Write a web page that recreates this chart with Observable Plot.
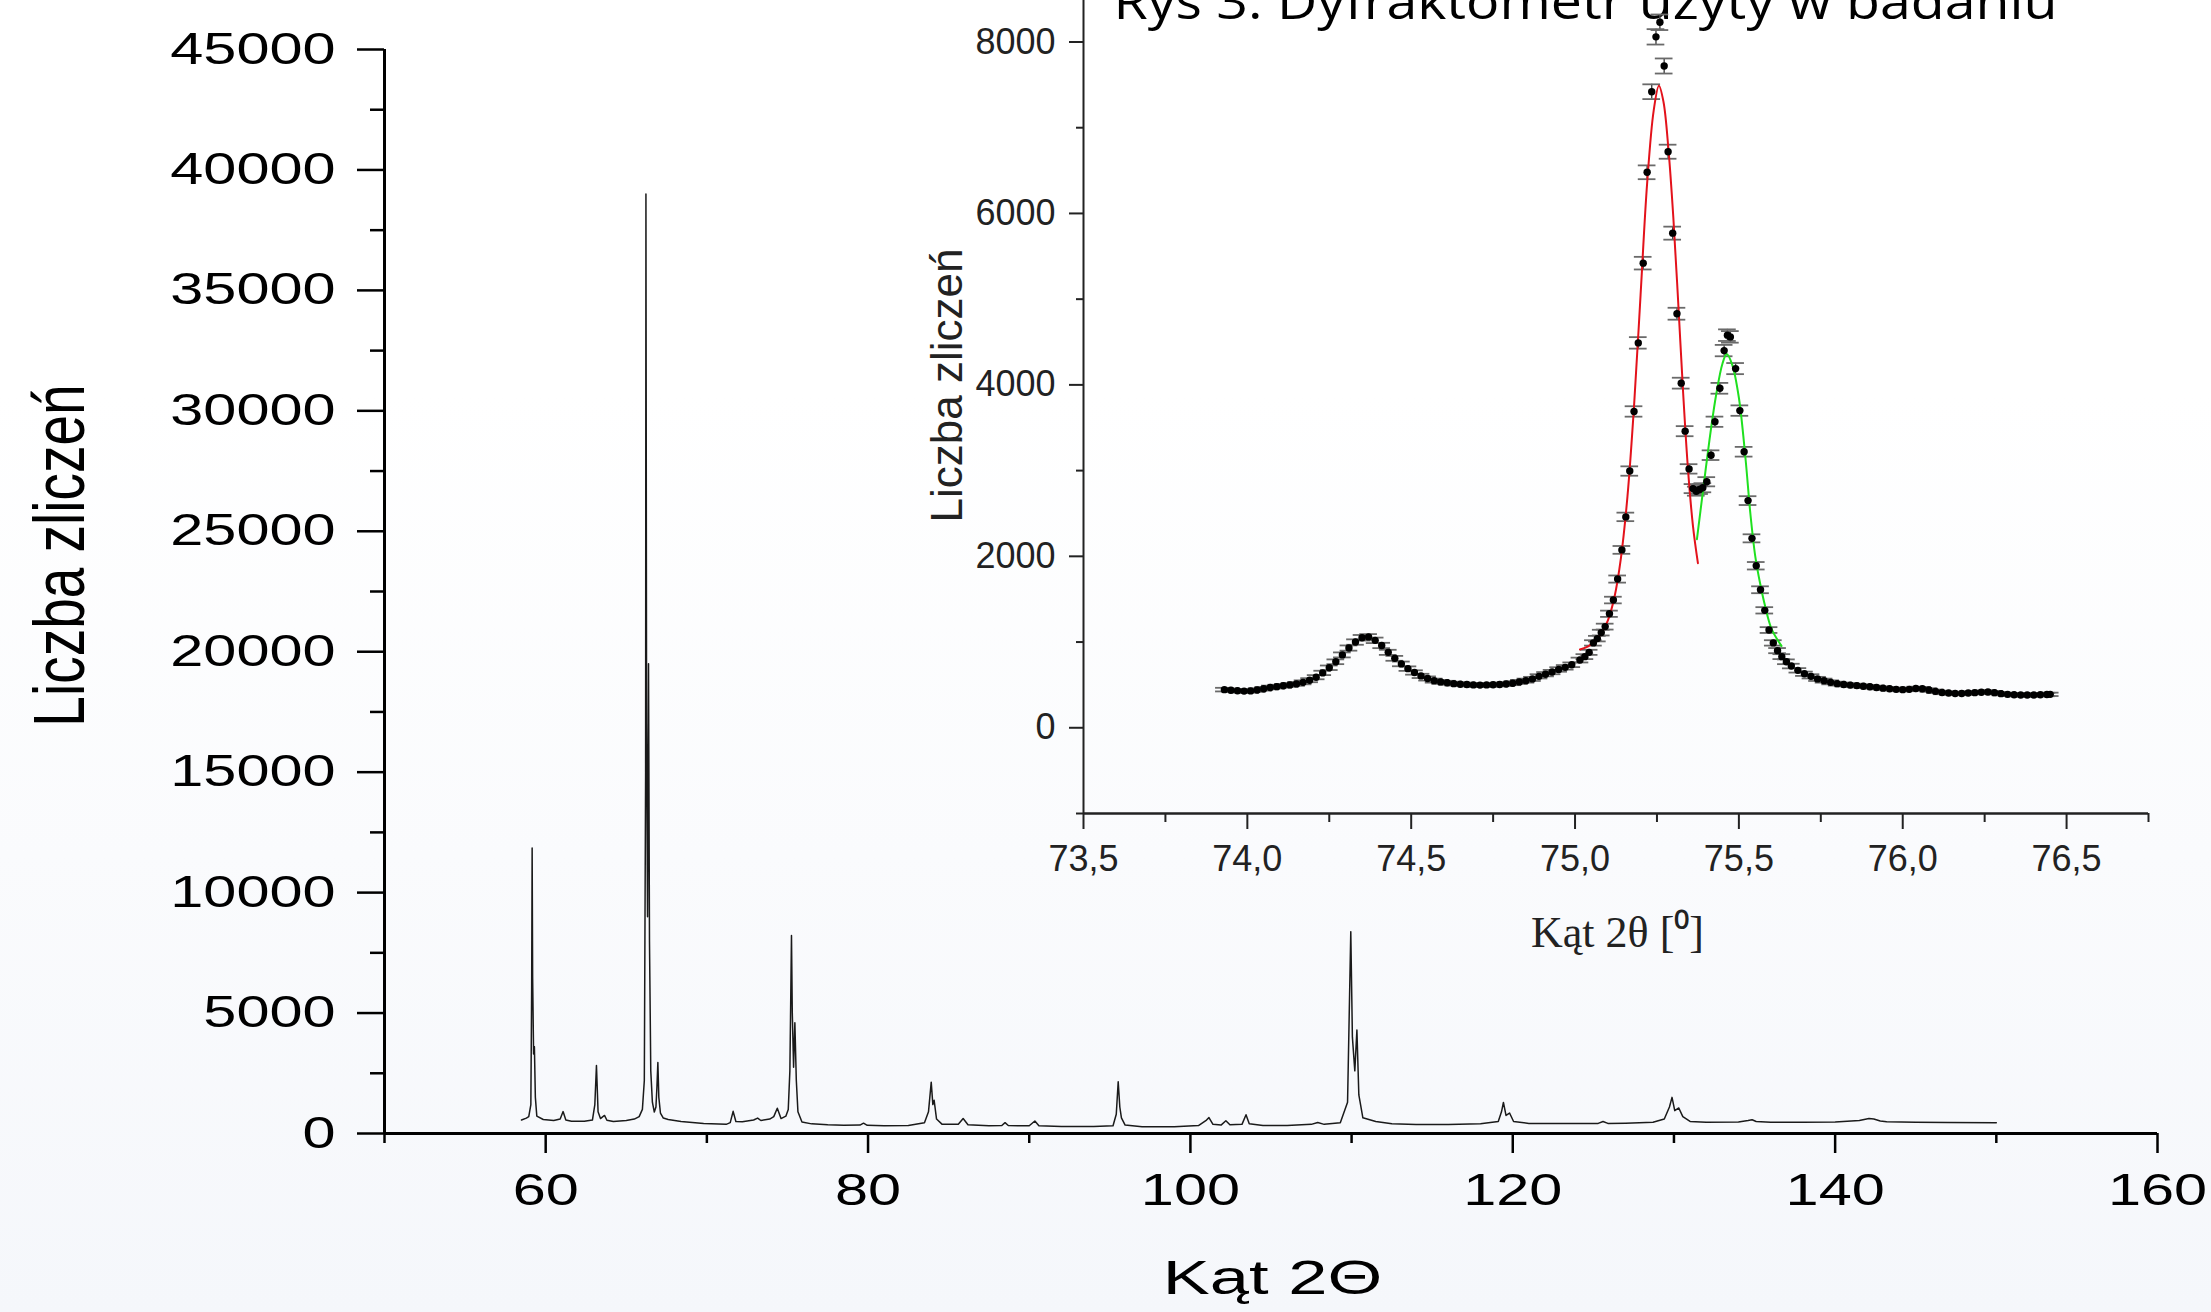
<!DOCTYPE html>
<html>
<head>
<meta charset="utf-8">
<script src="https://cdn.jsdelivr.net/npm/d3@7"></script>
<script src="https://cdn.jsdelivr.net/npm/@observablehq/plot@0.6"></script>
<style>
html, body { margin: 0; padding: 0; }
body {
  width: 2211px; height: 1312px; overflow: hidden; position: relative;
  background: linear-gradient(to bottom, #ffffff 0%, #ffffff 30%, #f5f7fb 100%);
  font-family: "Liberation Sans", Arial, sans-serif;
}
#main { position: absolute; left: 0; top: 0; }
#inset { position: absolute; left: 880px; top: 0; }
svg { overflow: visible; }
</style>
</head>
<body>
<div id="main"></div>
<div id="inset"></div>
<script>
// ---------- Main pattern: [2θ, counts] ----------
const mainPattern = [
  [58.5,560],[58.8,640],[58.95,700],[59.08,1200],[59.13,6000],[59.16,11850],[59.19,6500],[59.25,3300],[59.3,3600],[59.36,1500],[59.45,720],
  [59.85,580],[60.5,540],[60.9,600],[61.08,910],[61.25,560],[61.6,510],[62.4,510],[62.9,560],[63.05,1200],[63.15,2820],[63.25,900],
  [63.4,620],[63.55,700],[63.65,750],[63.8,550],[64.2,500],[65.0,540],[65.5,600],[65.8,700],[66.0,1000],[66.12,2200],[66.2,15000],
  [66.22,39000],[66.26,17000],[66.32,9000],[66.38,19500],[66.44,8000],[66.52,2600],[66.62,1300],[66.74,890],[66.84,1100],[66.9,1900],
  [66.96,2950],[67.02,1500],[67.12,850],[67.3,640],[67.6,580],[68.4,500],[69.8,420],[71.2,380],[71.45,450],[71.63,920],[71.8,500],
  [72.2,490],[72.9,560],[73.15,640],[73.35,540],[73.9,600],[74.15,700],[74.37,1050],[74.6,620],[74.9,720],[75.05,1000],[75.15,2600],
  [75.22,6500],[75.25,8220],[75.3,5000],[75.38,2750],[75.46,4600],[75.55,2200],[75.65,900],[75.9,480],[76.5,400],[77.5,360],[78.5,340],
  [79.5,350],[79.72,430],[79.95,340],[81.0,320],[82.5,330],[83.5,450],[83.75,900],[83.92,2130],[84.02,1200],[84.1,1380],[84.25,600],
  [84.6,380],[85.6,380],[85.9,620],[86.2,360],[87.5,320],[88.3,330],[88.5,450],[88.7,330],[90.0,320],[90.35,520],[90.6,320],[92.0,290],
  [94.0,290],[95.2,320],[95.4,800],[95.52,2150],[95.62,1100],[95.72,650],[95.95,350],[97.0,280],[99.0,280],[100.5,330],[101.0,560],
  [101.15,660],[101.4,380],[101.9,350],[102.2,530],[102.45,360],[103.2,380],[103.45,780],[103.65,400],[104.5,330],[106.0,330],[107.5,380],
  [107.9,460],[108.3,380],[109.3,450],[109.75,1300],[109.95,8380],[110.05,4000],[110.2,2600],[110.33,4300],[110.45,1600],[110.7,650],
  [111.5,500],[112.5,400],[114.0,370],[116.0,370],[118.0,400],[119.1,500],[119.3,900],[119.42,1290],[119.58,750],[119.8,850],[120.05,500],
  [121.0,420],[123.0,410],[125.3,420],[125.6,500],[125.9,420],[127.0,430],[128.7,470],[129.4,600],[129.72,1100],[129.88,1500],[130.05,950],
  [130.3,1060],[130.55,700],[131.0,500],[132.0,470],[134.0,480],[134.6,540],[134.85,570],[135.1,500],[136.0,470],[138.0,470],[140.0,480],
  [141.5,540],[142.1,620],[142.4,600],[142.8,520],[143.2,490],[145.0,470],[147.0,460],[150.0,450]
];

// ---------- Inset measured points: [2θ, counts] ----------
const insetPoints = [
  [73.93,445],[73.95,438],[73.97,432],[73.99,428],[74.01,430],[74.03,440],[74.05,455],[74.07,470],[74.09,480],[74.11,490],
  [74.13,500],[74.15,512],[74.17,530],[74.19,555],[74.21,590],[74.23,640],[74.25,700],[74.27,770],[74.29,850],[74.31,930],
  [74.33,1000],[74.35,1050],[74.37,1060],[74.39,1020],[74.41,960],[74.43,880],[74.45,810],[74.47,745],[74.49,690],[74.51,645],
  [74.53,605],[74.55,575],[74.57,550],[74.59,535],[74.61,525],[74.63,515],[74.65,508],[74.67,505],[74.69,500],[74.71,498],
  [74.73,500],[74.75,502],[74.77,505],[74.79,510],[74.81,520],[74.83,535],[74.85,550],[74.87,570],[74.89,600],[74.91,625],
  [74.93,650],[74.95,680],[74.97,705],[74.99,735],
  [75.015,790],[75.03,830],[75.043,880],[75.056,990],[75.068,1040],[75.08,1110],[75.092,1180],[75.105,1330],[75.117,1490],
  [75.13,1735],[75.143,2075],[75.155,2460],[75.167,2995],[75.18,3690],[75.193,4490],[75.208,5420],[75.22,6480],[75.234,7420],
  [75.247,8060],[75.259,8230],[75.272,7720],[75.284,6720],[75.298,5770],[75.311,4830],[75.324,4020],[75.336,3460],[75.348,3020],
  [75.36,2790],[75.37,2760],[75.38,2780],[75.39,2800],[75.402,2870],[75.415,3180],[75.427,3570],[75.442,3960],[75.455,4400],
  [75.465,4580],[75.474,4560],[75.49,4190],[75.503,3700],[75.516,3220],[75.528,2650],[75.54,2210],[75.553,1890],[75.566,1610],
  [75.579,1370],[75.592,1140],[75.605,990],[75.618,900],[75.631,830],[75.645,770],[75.66,720],
  [75.68,670],[75.70,630],[75.72,600],[75.74,570],[75.76,550],[75.78,530],[75.80,515],[75.82,505],[75.84,498],[75.86,492],
  [75.88,485],[75.90,478],[75.92,470],[75.94,462],[75.96,455],[75.98,448],[76.00,445],[76.02,448],[76.04,458],[76.06,455],
  [76.08,440],[76.10,425],[76.12,412],[76.14,405],[76.16,400],[76.18,400],[76.20,405],[76.22,410],[76.24,415],[76.26,418],
  [76.28,410],[76.30,398],[76.32,390],[76.34,385],[76.36,383],[76.38,382],[76.40,383],[76.42,385],[76.44,388],[76.45,390]
];

// ---------- Inset fitted curves ----------
const redFit = [
  [75.015,914],[75.04,950],[75.06,1010],[75.08,1100],[75.10,1250],[75.12,1520],[75.14,1980],[75.16,2700],[75.18,3750],
  [75.20,5050],[75.22,6350],[75.24,7200],[75.256,7490],[75.27,7300],[75.285,6750],[75.30,5950],[75.315,4950],[75.33,3900],
  [75.345,3000],[75.36,2350],[75.375,1920]
];
const greenFit = [
  [75.372,2200],[75.39,2750],[75.41,3350],[75.43,3870],[75.45,4250],[75.463,4360],[75.48,4230],[75.50,3850],[75.52,3150],
  [75.535,2500],[75.55,2000],[75.565,1680],[75.58,1420],[75.60,1150],[75.63,955]
];

// ---------- Ticks ----------
const mainYMajor = [0,5000,10000,15000,20000,25000,30000,35000,40000,45000];
const mainYMinor = [2500,7500,12500,17500,22500,27500,32500,37500,42500];
const mainXMajor = [60,80,100,120,140,160];
const mainXMinor = [50,70,90,110,130,150];
const insetYMajor = [0,2000,4000,6000,8000];
const insetYMinor = [-1000,1000,3000,5000,7000];
const insetXMajor = [73.5,74.0,74.5,75.0,75.5,76.0,76.5];
const insetXMinor = [73.75,74.25,74.75,75.25,75.75,76.25,76.75];

// ---------- Texts ----------
const figTitle = "Rys 3. Dyfraktometr użyty w badaniu";
const mainXLabel = "Kąt 2Θ";
const mainYLabel = "Liczba zliczeń";
const insetXLabel = "Kąt 2θ [⁰]";
const insetYLabel = "Liczba zliczeń";

const mainRows = mainPattern.map(([x, y]) => ({x, y}));
const insetRows = insetPoints.map(([x, c]) => ({x, c, e: Math.sqrt(c)}));
const redRows = redFit.map(([x, y]) => ({x, y}));
const greenRows = greenFit.map(([x, y]) => ({x, y}));
const capHalf = 0.027;

const main = Plot.plot({
  width: 2211, height: 1312,
  marginLeft: 384, marginRight: 54, marginTop: 49, marginBottom: 179,
  x: {domain: [50, 160]},
  y: {domain: [0, 45000]},
  style: {background: "transparent", fontFamily: "Liberation Sans, Arial, sans-serif", color: "black", overflow: "visible"},
  marks: [
    Plot.axisY(mainYMajor, {anchor: "left", tickSize: 27, tickPadding: 22, fontSize: 44, strokeWidth: 2.5, tickFormat: d => String(d), label: null, color: "black"}),
    Plot.axisY(mainYMinor, {anchor: "left", tickSize: 14, strokeWidth: 2.5, fill: "none", label: null, stroke: "black"}),
    Plot.axisX(mainXMajor, {anchor: "bottom", tickSize: 20, tickPadding: 20, fontSize: 44, strokeWidth: 2.5, tickFormat: d => String(d), label: null, color: "black"}),
    Plot.axisX(mainXMinor, {anchor: "bottom", tickSize: 10, strokeWidth: 2.5, fill: "none", label: null, stroke: "black"}),
    Plot.ruleX([50], {stroke: "black", strokeWidth: 3}),
    Plot.ruleY([0], {stroke: "black", strokeWidth: 3}),
    Plot.line(mainRows, {x: "x", y: "y", stroke: "#1a1a1a", strokeWidth: 1.5}),
    Plot.text([mainYLabel], {frameAnchor: "left", rotate: -90, lineAnchor: "bottom", textAnchor: "middle", dx: -301, dy: -36, fontSize: 55, fill: "black"}),
    Plot.text([mainXLabel], {frameAnchor: "bottom", lineAnchor: "bottom", textAnchor: "middle", dx: 1.5, dy: 160, fontSize: 49, fill: "black"}),
    Plot.text([figTitle], {frameAnchor: "top-left", lineAnchor: "bottom", textAnchor: "middle", dx: 1201, dy: -31, fontSize: 50, fontFamily: "Open Sans", fill: "black"})
  ]
});
document.getElementById("main").appendChild(main);

const inset = Plot.plot({
  width: 1331, height: 1000,
  marginLeft: 203, marginRight: 63, marginTop: 0, marginBottom: 187,
  x: {domain: [73.5, 76.75]},
  y: {domain: [-1000, 8484]},
  style: {background: "transparent", fontFamily: "Liberation Sans, Arial, sans-serif", color: "black", overflow: "visible"},
  marks: [
    Plot.axisY(insetYMajor, {anchor: "left", tickSize: 14, tickPadding: 14, fontSize: 36, strokeWidth: 2, tickFormat: d => String(d), label: null, color: "#222"}),
    Plot.axisY(insetYMinor, {anchor: "left", tickSize: 7, strokeWidth: 2, fill: "none", label: null, stroke: "#222"}),
    Plot.axisX(insetXMajor, {anchor: "bottom", tickSize: 16, tickPadding: 16, fontSize: 36, strokeWidth: 2, tickFormat: d => d.toFixed(1).replace(".", ","), label: null, color: "#222"}),
    Plot.axisX(insetXMinor, {anchor: "bottom", tickSize: 9, strokeWidth: 2, fill: "none", label: null, stroke: "#222"}),
    Plot.ruleX([73.5], {stroke: "#222", strokeWidth: 2}),
    Plot.ruleY([-1000], {stroke: "#222", strokeWidth: 2.5}),
    Plot.ruleX(insetRows, {x: "x", y1: d => d.c - d.e, y2: d => d.c + d.e, stroke: "#444", strokeWidth: 1.4}),
    Plot.ruleY(insetRows, {y: d => d.c + d.e, x1: d => d.x - capHalf, x2: d => d.x + capHalf, stroke: "#6a6a6a", strokeWidth: 1.8}),
    Plot.ruleY(insetRows, {y: d => d.c - d.e, x1: d => d.x - capHalf, x2: d => d.x + capHalf, stroke: "#6a6a6a", strokeWidth: 1.8}),
    Plot.line(redRows, {x: "x", y: "y", stroke: "#e3121b", strokeWidth: 2, curve: "catmull-rom"}),
    Plot.line(greenRows, {x: "x", y: "y", stroke: "#1fe01f", strokeWidth: 2, curve: "catmull-rom"}),
    Plot.dot(insetRows, {x: "x", y: "c", r: 3.7, fill: "black", stroke: "none"}),
    Plot.text([insetYLabel], {frameAnchor: "left", rotate: -90, lineAnchor: "bottom", textAnchor: "middle", dx: -122, dy: -21.5, fontSize: 44, fill: "#222"}),
    Plot.text([insetXLabel], {frameAnchor: "bottom", lineAnchor: "bottom", textAnchor: "middle", dx: 1.5, dy: 133, fontSize: 44, fontFamily: "Liberation Serif, Times New Roman, serif", fill: "#222"})
  ]
});
document.getElementById("inset").appendChild(inset);

function appendScale(t, sx, sy) {
  const tr = t.getAttribute("transform") || "";
  t.setAttribute("transform", `${tr} scale(${sx},${sy})`);
}
main.querySelectorAll('g[aria-label="y-axis tick label"] text, g[aria-label="x-axis tick label"] text')
  .forEach(t => appendScale(t, 1.35, 1));
main.querySelectorAll("text").forEach(t => {
  const s = t.textContent;
  if (s === mainXLabel) appendScale(t, 1.44, 1);
  else if (s === mainYLabel) appendScale(t, 1, 1.32);
  else if (s === figTitle) { t.setAttribute("textLength", "944"); t.setAttribute("lengthAdjust", "spacingAndGlyphs"); }
});
</script>
</body>
</html>
